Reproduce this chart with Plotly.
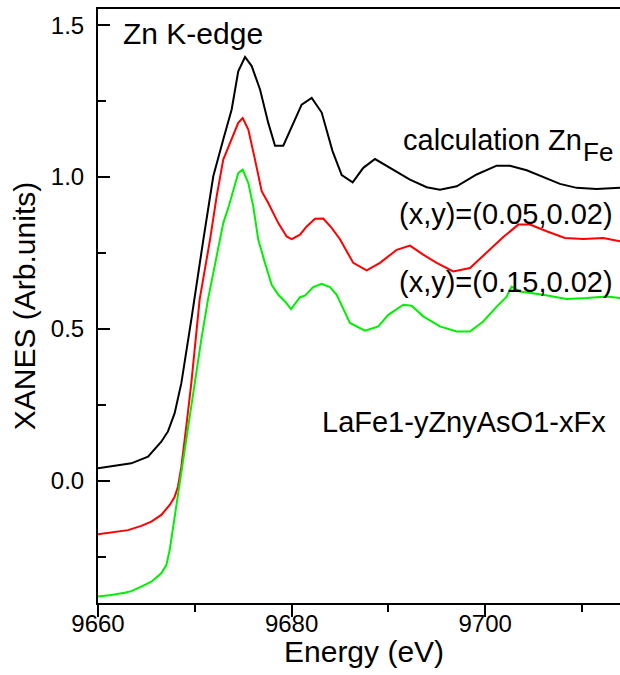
import plotly.graph_objects as go

# Zn K-edge XANES spectra (energy in eV, normalised absorption offset per curve)
energy_calc = [9660.0, 9661.72, 9663.44, 9665.17, 9666.54, 9667.23, 9667.92, 9668.61,
               9669.12, 9669.64, 9670.88, 9671.91,
               9672.94, 9673.81, 9674.49, 9675.19, 9675.88, 9676.74, 9677.59, 9678.29,
               9679.14, 9680.01, 9681.04, 9682.08, 9683.11, 9684.23, 9685.18, 9686.31,
               9687.41, 9688.62, 9690.51, 9692.23, 9693.96, 9695.33, 9697.06, 9699.12,
               9701.19, 9702.56, 9704.29, 9706.0, 9707.73, 9709.45, 9711.52, 9713.93, 9715.0]
xanes_calc = [0.041, 0.048, 0.057, 0.079, 0.128, 0.162, 0.222, 0.321,
              0.42, 0.53, 0.793, 1.002,
              1.123, 1.222, 1.348, 1.395, 1.365, 1.288, 1.178, 1.103,
              1.103, 1.167, 1.238, 1.26, 1.212, 1.085, 1.006, 0.982,
              1.03, 1.059, 1.024, 0.991, 0.966, 0.958, 0.969, 1.008,
              1.037, 1.037, 1.022, 0.999, 0.977, 0.964, 0.96, 0.964, 0.966]

energy_x005 = [9660.0, 9661.37, 9663.1, 9664.47, 9665.51, 9666.54, 9667.41, 9667.92,
               9668.26, 9668.61, 9668.89, 9669.12, 9669.64, 9670.15, 9670.5, 9671.57,
               9672.26, 9672.94, 9673.81, 9674.49,
               9674.95, 9675.53, 9676.22, 9676.91, 9677.59, 9678.63, 9679.49, 9680.01,
               9680.87, 9681.56, 9682.42, 9683.27, 9684.14, 9685.0, 9686.37, 9687.76,
               9689.13, 9690.86, 9692.23, 9693.6, 9694.99, 9696.7, 9698.43, 9700.15,
               9701.87, 9703.42, 9704.63, 9706.35, 9708.24, 9710.13, 9712.2, 9713.93, 9715.0]
xanes_x005 = [-0.177, -0.170, -0.163, -0.149, -0.135, -0.113, -0.080, -0.053,
              -0.020, 0.046, 0.112, 0.178, 0.321, 0.486, 0.596, 0.793,
              0.936, 1.057, 1.123, 1.178,
              1.194, 1.156, 1.057, 0.953, 0.914, 0.848, 0.804, 0.795,
              0.81, 0.837, 0.862, 0.863, 0.832, 0.795, 0.717, 0.692,
              0.717, 0.76, 0.774, 0.744, 0.717, 0.689, 0.70, 0.75,
              0.802, 0.843, 0.843, 0.821, 0.799, 0.796, 0.799, 0.788, 0.786]

energy_x015 = [9660.0, 9661.37, 9662.76, 9663.44, 9664.47, 9665.51, 9666.54, 9667.06,
               9667.41, 9667.92, 9668.44, 9668.96, 9669.47, 9669.99, 9670.67, 9671.36,
               9671.91, 9672.94, 9673.46, 9673.98, 9674.49, 9674.95, 9675.53, 9676.04,
               9676.56, 9677.25, 9677.94, 9678.63, 9679.32, 9679.94, 9680.87, 9681.38,
               9682.24, 9683.11, 9683.97, 9684.66, 9686.03, 9687.58, 9688.96, 9689.99,
               9691.54, 9692.41, 9693.6, 9695.33, 9697.06, 9698.43, 9699.8, 9701.19,
               9702.22, 9702.73, 9703.6, 9706.0, 9708.42, 9710.48, 9712.55, 9713.93, 9715.0]
xanes_x015 = [-0.382, -0.377, -0.369, -0.364, -0.349, -0.333, -0.305, -0.278,
              -0.228, -0.119, 0.002, 0.112, 0.222, 0.332, 0.464, 0.596,
              0.684, 0.848, 0.898, 0.958, 1.013, 1.024, 0.98, 0.903,
              0.793, 0.717, 0.645, 0.612, 0.59, 0.565, 0.604, 0.609,
              0.637, 0.648, 0.637, 0.612, 0.519, 0.494, 0.508, 0.546,
              0.579, 0.576, 0.541, 0.508, 0.491, 0.491, 0.524, 0.573,
              0.606, 0.639, 0.623, 0.612, 0.598, 0.601, 0.606, 0.601, 0.6]

FONT = "Liberation Sans, Arial, sans-serif"

fig = go.Figure()
for xs, ys, col, name in [
    (energy_calc, xanes_calc, "#000000", "calculation Zn_Fe"),
    (energy_x005, xanes_x005, "#ff0000", "(0.05,0.02)"),
    (energy_x015, xanes_x015, "#00f000", "(0.15,0.02)"),
]:
    fig.add_trace(go.Scatter(x=xs, y=ys, mode="lines", name=name,
                             line=dict(color=col, width=2), showlegend=False))

# plot-area edges in pixels, used to place the text labels
W0, W1, H0, H1 = 98, 620, 9, 603


def px(xp):
    return (xp - W0) / (W1 - W0)


def py(yp):
    return (H1 - yp) / (H1 - H0)


labels = [
    ("Zn K-edge", 121, 33, 30, "left"),
    ("calculation Zn", 401, 140, 29, "left"),
    ("Fe", 581, 152, 26, "left"),
    ("(x,y)=(0.05,0.02)", 397, 214, 29, "left"),
    ("(x,y)=(0.15,0.02)", 397, 282, 29, "left"),
    ("LaFe1-yZnyAsO1-xFx", 320, 422, 29, "left"),
    ("Energy (eV)", 364, 652, 30, "center"),
]
for txt, x, y, s, anc in labels:
    fig.add_annotation(text=txt, x=px(x), y=py(y), xref="paper", yref="paper",
                       xanchor=anc, yanchor="middle", showarrow=False,
                       font=dict(family=FONT, size=s, color="black"))

fig.update_layout(
    width=620, height=675,
    margin=dict(l=W0, r=0, t=H0, b=675 - H1),
    paper_bgcolor="white", plot_bgcolor="white",
    font=dict(family=FONT, color="black"),
)
fig.update_xaxes(
    range=[9660, 9713.93], tick0=9660, dtick=20,
    ticks="outside", ticklen=12, tickwidth=2, tickcolor="black",
    minor=dict(dtick=10, tick0=9660, ticks="outside", ticklen=7, tickwidth=2, tickcolor="black"),
    showline=True, linewidth=2, linecolor="black", mirror=True,
    showgrid=False, zeroline=False,
    tickfont=dict(family=FONT, size=24), ticklabelstandoff=-14,
)
fig.update_yaxes(
    range=[-0.403, 1.553], tick0=0, dtick=0.5, tickformat=".1f",
    ticks="inside", ticklen=12, tickwidth=2, tickcolor="black",
    minor=dict(dtick=0.25, tick0=0, ticks="inside", ticklen=8, tickwidth=2, tickcolor="black"),
    showline=True, linewidth=2, linecolor="black", mirror=False,
    showgrid=False, zeroline=False,
    tickfont=dict(family=FONT, size=24), ticklabelstandoff=7,
    title=dict(text="XANES (Arb.units)", font=dict(family=FONT, size=30), standoff=6),
)

fig.write_html("out.html")
